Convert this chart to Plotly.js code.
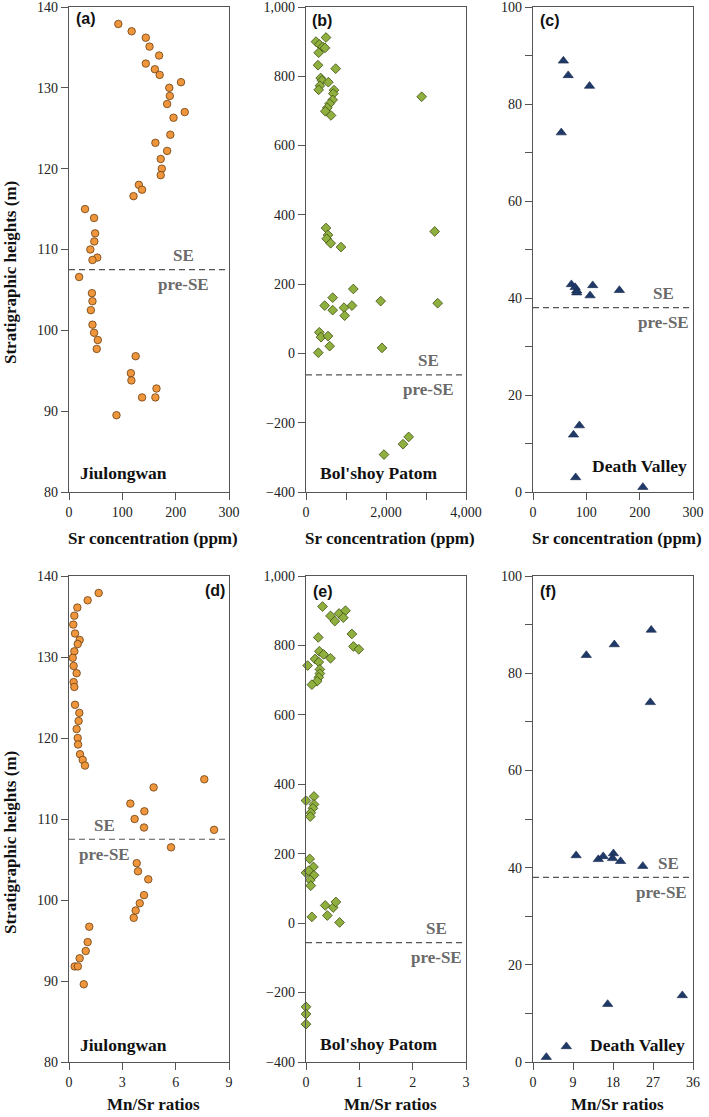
<!DOCTYPE html>
<html>
<head>
<meta charset="utf-8">
<script src="https://cdn.plot.ly/plotly-3.0.1.min.js"></script>
<style>html,body{margin:0;padding:0;background:#fff;}#chart{width:709px;height:1117px;}</style>
</head>
<body>
<div id="chart"></div>
<script>
// ---------- Data ----------
// (a) Jiulongwan: Sr (ppm) vs height (m)
const jiuSr = [92.5,117.5,144,151,169,144,161,170,210,188,189,184,217,196,190,162,184,172,174,172,131,137,121,30,47,49,47.5,40,53,44,19,43,44,41,44,47,54,52,125,116,117,164,137,162,89];
const jiuSrHeight = [137.9,137.0,136.2,135.1,134.0,133.0,132.3,131.6,130.7,130.0,129.0,128.0,127.0,126.3,124.2,123.2,122.2,121.2,120.0,119.2,118.0,117.4,116.6,115.0,113.9,112.0,111.0,110.0,109.0,108.7,106.6,104.6,103.6,102.5,100.7,99.7,98.8,97.7,96.8,94.7,93.8,92.8,91.7,91.7,89.5];
// (d) Jiulongwan: Mn/Sr vs height
const jiuMnSr = [1.67,1.05,0.47,0.30,0.24,0.34,0.60,0.49,0.30,0.21,0.26,0.43,0.26,0.30,0.34,0.58,0.54,0.43,0.49,0.51,0.62,0.77,0.90,7.61,4.76,3.45,4.24,3.69,4.22,8.16,5.74,3.81,3.88,4.46,4.22,3.98,3.75,3.64,1.14,1.05,0.94,0.60,0.32,0.50,0.83];
const jiuMnSrHeight = [137.9,137.0,136.1,135.1,134.0,132.9,132.1,131.6,130.7,129.9,128.9,128.0,126.9,126.3,124.1,123.1,122.1,121.1,120.0,119.2,118.0,117.3,116.6,114.9,113.9,111.9,110.95,110.0,108.95,108.66,106.5,104.55,103.55,102.55,100.6,99.6,98.7,97.8,96.7,94.8,93.7,92.8,91.8,91.8,89.6];
// (b) Bol'shoy Patom: Sr vs height
const patSr = [250,333,500,417,475,317,300,742,367,400,350,317,558,700,683,667,592,533,483,625,2892,500,550,517,617,875,3217,467,667,667,950,967,1150,1183,1867,3292,333,375,550,592,308,1900,1950,2425,2567];
const patSrHeight = [900,892,912,885,882,868,832,822,795,788,773,761,783,760,750,732,721,709,699,687,741,362,342,331,318,307,352,138,161,125,132,109,138,186,151,145,61,47,50,21,2,16,-292,-262,-241];
// (e) Bol'shoy Patom: Mn/Sr vs height
const patMnSr = [0.31,0.46,0.54,0.62,0.74,0.70,0.86,0.89,0.99,0.23,0.25,0.33,0.46,0.17,0.24,0.03,0.26,0.26,0.24,0.21,0.11,0.00,0.15,0.15,0.13,0.09,0.08,0.07,0.14,0.00,0.05,0.15,0.08,0.09,0.11,0.36,0.40,0.51,0.56,0.63,0.00,0.00,0.00];
const patMnSrHeight = [912,885,870,892,900,880,833,797,789,823,783,774,763,761,752,742,731,719,708,697,687,353,365,342,331,318,307,185,162,145,151,138,124,108,18,51,22,45,61,2,-241,-262,-291];
// (c) Death Valley: Sr vs height
const dvSr = [57,66,106,53,72,79,82,82,112,107,162,87,76,80,206];
const dvSrHeight = [88.9,85.9,83.7,74.1,42.8,42.2,41.5,41.1,42.6,40.5,41.6,13.7,11.8,3.0,1.0];
// (f) Death Valley: Mn/Sr vs height
const dvMnSr = [12.0,18.3,26.6,26.4,9.7,14.7,15.8,18.1,17.9,19.7,24.7,16.8,33.6,7.5,3.0];
const dvMnSrHeight = [83.7,85.9,88.9,74.0,42.5,41.7,42.3,42.9,41.9,41.3,40.3,11.9,13.7,3.2,1.0];
// SE boundary heights per panel (a,b,c,d,e,f)
const seBoundary = [107.5,-62,38,107.5,-56,38];
const panelLetters = ['(a)','(b)','(c)','(d)','(e)','(f)'];
const siteNames = ['Jiulongwan',"Bol'shoy Patom",'Death Valley'];
const xTitles = ['Sr concentration (ppm)','Mn/Sr ratios'];
const yTitle = 'Stratigraphic heights (m)';

// ---------- Layout helpers ----------
const W = 709, H = 1117;
const fx = p => p / W;
const fy = p => 1 - p / H;
const cols = [[69,229],[306,466],[533,693]];
const rows = [[7,492],[576,1062]];

const serif = "'Liberation Serif', 'Times New Roman', serif";
const sans = "'Liberation Sans', Arial, sans-serif";
const axisColor = '#555';

const styles = [
  {symbol:'circle', size:7.5, color:'#EF963D', line:{color:'#6b3f12', width:0.8}},
  {symbol:'diamond', size:7.5, color:'#8FB03E', line:{color:'#3e4d12', width:0.8}},
  {symbol:'triangle-up', size:9, color:'#1F3A68', line:{color:'#14264a', width:0.6}}
];

const panels = [
  {x:jiuSr, y:jiuSrHeight, col:0, row:0, xr:[0,300], xd:100, yr:[80,140], yd:10},
  {x:patSr, y:patSrHeight, col:1, row:0, xr:[0,4000], xd:2000, xminor:1000, xfmt:',d', yr:[-400,1000], yd:200, yfmt:',d'},
  {x:dvSr, y:dvSrHeight, col:2, row:0, xr:[0,300], xd:100, yr:[0,100], yd:20, yminor:10},
  {x:jiuMnSr, y:jiuMnSrHeight, col:0, row:1, xr:[0,9], xd:3, yr:[80,140], yd:10},
  {x:patMnSr, y:patMnSrHeight, col:1, row:1, xr:[0,3], xd:1, yr:[-400,1000], yd:200, yfmt:',d'},
  {x:dvMnSr, y:dvMnSrHeight, col:2, row:1, xr:[0,36], xd:9, yr:[0,100], yd:20, yminor:10}
];

const traces = [];
const layout = {
  width: W, height: H,
  margin: {l:0, r:0, t:0, b:0},
  paper_bgcolor: '#fff', plot_bgcolor: '#fff',
  showlegend: false,
  shapes: [], annotations: []
};

// SE label x-positions (data units) for each panel: [SE, pre-SE]
const seLabelX = [[215,215],[3050,3050],[244,244],[1.97,1.97],[2.44,2.44],[30.4,29.0]];

panels.forEach((p, i) => {
  const n = i + 1;
  const xa = 'xaxis' + (n === 1 ? '' : n), ya = 'yaxis' + (n === 1 ? '' : n);
  const xr = 'x' + (n === 1 ? '' : n), yr = 'y' + (n === 1 ? '' : n);
  const c = cols[p.col], r = rows[p.row];
  const st = styles[p.col];
  traces.push({
    type:'scatter', mode:'markers', x:p.x, y:p.y, xaxis:xr, yaxis:yr,
    cliponaxis:false,
    marker:{symbol:st.symbol, size:st.size, color:st.color, line:st.line}
  });
  const common = {
    showline:true, mirror:true, linecolor:axisColor, linewidth:1.2,
    ticks:'outside', ticklen:7, tickwidth:1, tickcolor:axisColor,
    showgrid:false, zeroline:false, fixedrange:true,
    ticklabeloverflow:'allow',
    tickfont:{family:serif, size:14, color:'#222'}
  };
  layout[xa] = Object.assign({}, common, {
    domain:[fx(c[0]), fx(c[1])], range:p.xr, dtick:p.xd, tick0:0, anchor:yr
  });
  if (p.xfmt) layout[xa].tickformat = p.xfmt;
  if (p.xminor) layout[xa].minor = {dtick:p.xminor, ticks:'outside', ticklen:7, tickcolor:axisColor, showgrid:false};
  layout[ya] = Object.assign({}, common, {
    domain:[fy(r[1]), fy(r[0])], range:p.yr, dtick:p.yd, tick0:0, anchor:xr
  });
  if (p.yfmt) layout[ya].tickformat = p.yfmt;
  if (p.yminor) layout[ya].minor = {dtick:p.yminor, ticks:'outside', ticklen:7, tickcolor:axisColor, showgrid:false};

  // SE boundary dashed line
  layout.shapes.push({
    type:'line', xref:xr + ' domain', yref:yr, x0:0, x1:1, y0:seBoundary[i], y1:seBoundary[i],
    line:{color:'#555', width:1.2, dash:'6px,4px'}
  });
  // SE / pre-SE labels
  layout.annotations.push({
    xref:xr, yref:yr, x:seLabelX[i][0], y:seBoundary[i], yshift:14, text:'SE', showarrow:false,
    xanchor:'center', yanchor:'middle', font:{family:serif, size:17, color:'#6a6a6a', weight:'bold'}
  });
  layout.annotations.push({
    xref:xr, yref:yr, x:seLabelX[i][1], y:seBoundary[i], yshift:-15, text:'pre-SE', showarrow:false,
    xanchor:'center', yanchor:'middle', font:{family:serif, size:17, color:'#6a6a6a', weight:'bold'}
  });
});

// Panel letters
const letterPos = [[74,'left',19],[310,'left',20],[538,'left',20],[227,'right',590],[311,'left',591],[538,'left',591]];
letterPos.forEach((lp, i) => {
  layout.annotations.push({
    xref:'paper', yref:'paper', x:fx(lp[0]), y:fy(lp[2]), text:'<b>' + panelLetters[i] + '</b>',
    showarrow:false, xanchor:lp[1], yanchor:'middle', font:{family:sans, size:16, color:'#111'}
  });
});

// Site names
const sitePos = [[78,'left',473],[318,'left',473],[689,'right',466],[78,'left',1045],[318,'left',1044],[687,'right',1045]];
sitePos.forEach((sp, i) => {
  layout.annotations.push({
    xref:'paper', yref:'paper', x:fx(sp[0]), y:fy(sp[2]), text:'<b>' + siteNames[i % 3] + '</b>',
    showarrow:false, xanchor:sp[1], yanchor:'middle', font:{family:serif, size:17.5, color:'#111'}
  });
});

// X axis titles
[[538,0],[1104,1]].forEach(t => {
  cols.forEach(c => {
    layout.annotations.push({
      xref:'paper', yref:'paper', x:fx((c[0] + c[1]) / 2 + 4), y:fy(t[0]), text:'<b>' + xTitles[t[1]] + '</b>',
      showarrow:false, xanchor:'center', yanchor:'middle', font:{family:serif, size:17, color:'#111'}
    });
  });
});

// Y axis titles
[273, 843].forEach(yc => {
  layout.annotations.push({
    xref:'paper', yref:'paper', x:fx(10), y:fy(yc), text:'<b>' + yTitle + '</b>', textangle:-90,
    showarrow:false, xanchor:'center', yanchor:'middle', font:{family:serif, size:17, color:'#111'}
  });
});

Plotly.newPlot('chart', traces, layout, {displayModeBar:false, staticPlot:true});
</script>
</body>
</html>
